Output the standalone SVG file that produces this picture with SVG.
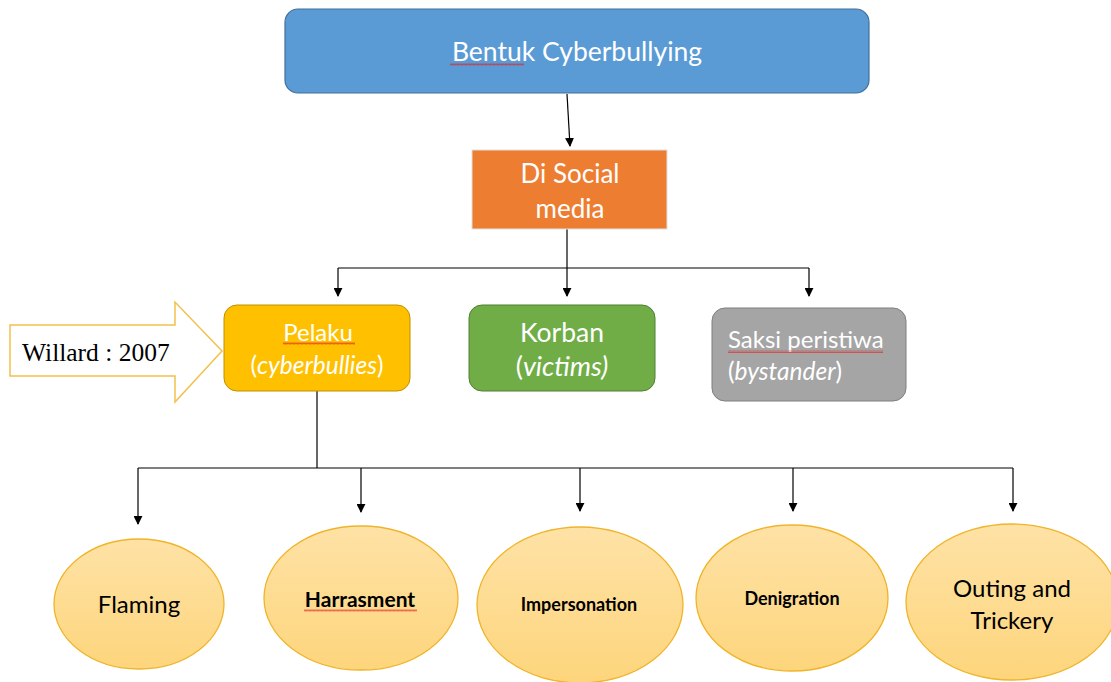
<svg xmlns="http://www.w3.org/2000/svg" width="1111" height="682" viewBox="0 0 1111 682">
<style>
.t{font-family:Lato,"Open Sans","Liberation Sans",sans-serif;text-anchor:middle}
.w{fill:#fff}
.k{fill:#000}
.ln{fill:none;stroke:#000;stroke-width:1.2}
.ell{fill:url(#eg);stroke:#F0B429;stroke-width:1.3}
.sq{fill:url(#wave)}
</style>
<defs>
<marker id="ah" viewBox="0 0 10 10" refX="9" refY="5" markerWidth="9" markerHeight="9" markerUnits="userSpaceOnUse" orient="auto">
<path d="M0,0 L10,5 L0,10 Z" fill="#000"/>
</marker>
<linearGradient id="eg" x1="0" y1="0" x2="0" y2="1">
<stop offset="0" stop-color="#FEE2A6"/>
<stop offset="1" stop-color="#FDD57C"/>
</linearGradient>
<pattern id="wave" width="4" height="3" patternUnits="userSpaceOnUse">
<path d="M0,2.5 L1,0.5 L2,2.5 L3,0.5 L4,2.5" fill="none" stroke="#E02020" stroke-width="0.6"/>
</pattern>
</defs>

<g id="connectors">
<path class="ln" d="M567,94 L570,146" marker-end="url(#ah)"/>
<path class="ln" d="M567,229 V268"/>
<path class="ln" d="M338,268 H809"/>
<path class="ln" d="M338,268 V296" marker-end="url(#ah)"/>
<path class="ln" d="M567,268 V296" marker-end="url(#ah)"/>
<path class="ln" d="M809,268 V296" marker-end="url(#ah)"/>
<path class="ln" d="M317,391 V468"/>
<path class="ln" d="M138,468 H1013"/>
<path class="ln" d="M138,468 V524" marker-end="url(#ah)"/>
<path class="ln" d="M361,468 V512" marker-end="url(#ah)"/>
<path class="ln" d="M580,468 V511" marker-end="url(#ah)"/>
<path class="ln" d="M793,468 V511" marker-end="url(#ah)"/>
<path class="ln" d="M1013,468 V511" marker-end="url(#ah)"/>
</g>

<g id="bentuk">
<rect x="285" y="9" width="584" height="84" rx="13" fill="#5B9BD5" stroke="#41719C" stroke-width="1.2"/>
<text class="t w" x="577" y="61" font-size="26.5">Bentuk Cyberbullying</text>
<rect class="sq" x="450" y="63" width="74" height="3"/>
</g>

<g id="social">
<rect x="472" y="150" width="195" height="79" fill="#ED7D31" stroke="#E0E0E0" stroke-width="1"/>
<text class="t w" x="570" y="183" font-size="26">Di Social</text>
<text class="t w" x="570" y="218" font-size="26">media</text>
</g>

<g id="willard">
<path d="M10,325 H175 V302 L222,351 L175,402 V376 H10 Z" fill="#fff" stroke="#F2C14E" stroke-width="1.5"/>
<text x="22" y="361" font-family="'Liberation Serif',serif" font-size="25.5" fill="#000">Willard : 2007</text>
</g>

<g id="pelaku">
<rect x="224" y="305" width="186" height="86" rx="13" fill="#FFC000" stroke="#BF9000" stroke-width="1"/>
<text class="t w" x="318" y="341" font-size="24">Pelaku</text>
<text class="t w" x="317" y="374" font-size="24.5">(<tspan font-style="italic">cyberbullies</tspan>)</text>
<rect class="sq" x="283" y="342" width="72" height="3"/>
</g>

<g id="korban">
<rect x="469" y="305" width="186" height="86" rx="13" fill="#70AD47" stroke="#507E32" stroke-width="1"/>
<text class="t w" x="562" y="342" font-size="26.5">Korban</text>
<text class="t w" x="562" y="376" font-size="27">(<tspan font-style="italic">victims)</tspan></text>
</g>

<g id="saksi">
<rect x="712" y="308" width="194" height="93" rx="13" fill="#A5A5A5" stroke="#7F7F7F" stroke-width="1"/>
<text x="728" y="348" font-family="Lato,'Open Sans',sans-serif" font-size="24" class="w">Saksi peristiwa</text>
<text x="728" y="380" font-family="Lato,'Open Sans',sans-serif" font-size="24.5" class="w">(<tspan font-style="italic">bystander</tspan>)</text>
<rect class="sq" x="728" y="350" width="155" height="3"/>
</g>

<g id="flaming">
<ellipse class="ell" cx="139" cy="604" rx="85" ry="65"/>
<text class="t k" x="139" y="613" font-size="24">Flaming</text>
</g>

<g id="harrasment">
<ellipse class="ell" cx="361" cy="598" rx="97" ry="72"/>
<text class="t k" x="360" y="607" font-size="21" font-weight="bold">Harrasment</text>
<rect class="sq" x="304" y="609" width="113" height="3"/>
</g>

<g id="impersonation">
<ellipse class="ell" cx="580" cy="605" rx="103" ry="78"/>
<text class="t k" x="579" y="611" font-size="18" font-weight="bold">Impersonation</text>
</g>

<g id="denigration">
<ellipse class="ell" cx="792" cy="598" rx="96" ry="73"/>
<text class="t k" x="792" y="605" font-size="18" font-weight="bold">Denigration</text>
</g>

<g id="outing">
<ellipse class="ell" cx="1012" cy="602" rx="106" ry="78"/>
<text class="t k" x="1012" y="597" font-size="24">Outing and</text>
<text class="t k" x="1012" y="629" font-size="24">Trickery</text>
</g>
</svg>
